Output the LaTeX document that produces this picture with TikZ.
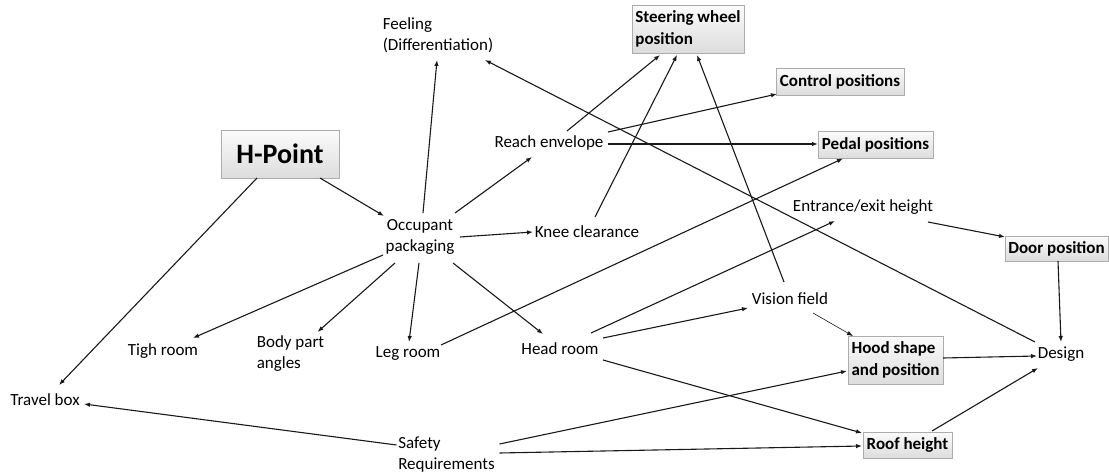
\documentclass[tikz,border=0pt]{standalone}
\usepackage{fontspec}
\setmainfont{Carlito}
\usetikzlibrary{arrows.meta}
\begin{document}
\begin{tikzpicture}[x=1pt,y=-1pt,
  lbl/.style={font=\fontsize{17}{21}\selectfont, inner sep=0pt, align=center},
  lbll/.style={lbl, align=left},
  box/.style={draw=gray!65, line width=0.8pt, top color=gray!3, bottom color=gray!27,
    inner sep=0pt, font=\fontsize{17}{22}\selectfont\bfseries, align=left},
  link/.style={draw=black!90, line width=1.1pt, -{Latex[length=6pt,width=4.5pt]}},
  thinlink/.style={link, line width=0.6pt},
]
\useasboundingbox (0,0) rectangle (1109,473);

% boxed design targets
\node[box, minimum width=118pt, minimum height=48pt,
  font=\fontsize{28}{30}\selectfont\bfseries] (hp) at (280,154) {H-Point};
\node[box, minimum width=112pt, minimum height=48pt] (steer) at (688,29) {Steering wheel\\position};
\node[box, minimum width=128pt, minimum height=27pt] (ctrl) at (840,81.5) {Control positions};
\node[box, minimum width=115pt, minimum height=27pt] (pedal) at (875.5,144.5) {Pedal positions};
\node[box, minimum width=103pt, minimum height=25pt] (door) at (1056.5,248.5) {Door position};
\node[box, minimum width=95pt, minimum height=48pt] (hood) at (895.5,360) {Hood shape\\and position};
\node[box, minimum width=89pt, minimum height=26pt] (roof) at (907.5,445) {Roof height};

% plain labels
\node[lbll] (feel) at (438,35) {Feeling\\(Differentiation)};
\node[lbl] (reach) at (549,143) {Reach envelope};
\node[lbl] (occ) at (420,237) {Occupant\\packaging};
\node[lbl] (knee) at (587,232) {Knee clearance};
\node[lbl] (entr) at (863,207) {Entrance/exit height};
\node[lbl] (vis) at (790,299) {Vision field};
\node[lbl] (design) at (1061,354) {Design};
\node[lbl] (tigh) at (163,351) {Tigh room};
\node[lbll] (body) at (290.5,354) {Body part\\angles};
\node[lbl] (leg) at (408,354) {Leg room};
\node[lbl] (head) at (560,349) {Head room};
\node[lbl] (travel) at (45,400) {Travel box};
\node[lbll] (safety) at (446.5,455) {Safety\\Requirements};

% connectors
\draw[link] ([shift={(40,24)}]hp.center) -- ([shift={(-36,-21)}]occ.center);
\draw[link] ([shift={(-23,24)}]hp.center) -- ([shift={(14,-15)}]travel.center);
\draw[link] ([shift={(3,-24)}]occ.center) -- ([shift={(-1,25)}]feel.center);
\draw[link] ([shift={(35,-24)}]occ.center) -- ([shift={(-17,14)}]reach.center);
\draw[link] ([shift={(40,0)}]occ.center) -- ([shift={(-54,0)}]knee.center);
\draw[link] ([shift={(-37,18)}]occ.center) -- ([shift={(30,-13)}]tigh.center);
\draw[link] ([shift={(-25,26)}]occ.center) -- ([shift={(27,-22)}]body.center);
\draw[link] ([shift={(-1,26)}]occ.center) -- ([shift={(1,-12)}]leg.center);
\draw[link] ([shift={(33,26)}]occ.center) -- ([shift={(-17,-15)}]head.center);
\draw[link] ([shift={(18,-12)}]reach.center) -- ([shift={(-28,26)}]steer.center);
\draw[link] ([shift={(59,-11)}]reach.center) -- ([shift={(-63,12.5)}]ctrl.center);
\draw[link] ([shift={(59,1)}]reach.center) -- ([shift={(-57.5,-0.5)}]pedal.center);
\draw[link] ([shift={(8,-15)}]knee.center) -- ([shift={(-11,26)}]steer.center);
\draw[link] ([shift={(-6,-17)}]vis.center) -- ([shift={(9,26)}]steer.center);
\draw[link] ([shift={(-26,-12)}]design.center) -- ([shift={(47,25)}]feel.center);
\draw[link] ([shift={(33,-9)}]leg.center) -- ([shift={(-32.5,14)}]pedal.center);
\draw[link] ([shift={(31,-16)}]head.center) -- ([shift={(-28,14)}]entr.center);
\draw[link] ([shift={(43,-11)}]head.center) -- ([shift={(-42,9)}]vis.center);
\draw[link] ([shift={(43,11)}]head.center) -- ([shift={(-45.5,-12)}]roof.center);
\draw[thinlink] ([shift={(23,14)}]vis.center) -- ([shift={(-42.5,-24)}]hood.center);
\draw[link] ([shift={(65,15)}]entr.center) -- ([shift={(-51.5,-11.5)}]door.center);
\draw[link] ([shift={(1.5,12.5)}]door.center) -- ([shift={(0,-12)}]design.center);
\draw[link] ([shift={(47.5,-2)}]hood.center) -- ([shift={(-24,2)}]design.center);
\draw[link] ([shift={(24.5,-14)}]roof.center) -- ([shift={(-23,14)}]design.center);
\draw[link] ([shift={(-50,-10)}]safety.center) -- ([shift={(39,4)}]travel.center);
\draw[link] ([shift={(53,-11)}]safety.center) -- ([shift={(-48.5,11)}]hood.center);
\draw[link] ([shift={(53,-2)}]safety.center) -- ([shift={(-45.5,1)}]roof.center);
\end{tikzpicture}
\end{document}
